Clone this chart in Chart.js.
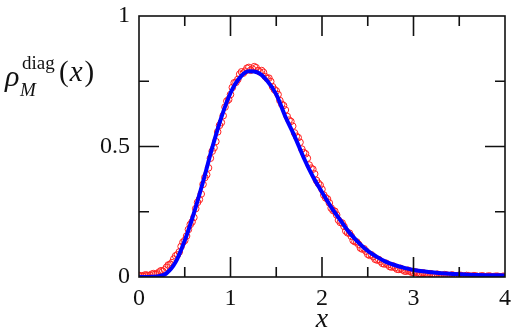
<!DOCTYPE html>
<html>
<head>
<meta charset="UTF-8">
<script src="https://cdn.jsdelivr.net/npm/chart.js@4.4.1/dist/chart.umd.min.js"></script>
<style>
  body { margin: 0; background: #fff; }
</style>
</head>
<body>
<canvas id="rho" width="515" height="336"></canvas>
<script>
// fitted curve (blue)
const blueX = [0, 0.1, 0.2, 0.3, 0.4, 0.5, 0.6, 0.7, 0.8, 0.9, 1.0, 1.1, 1.2, 1.3, 1.4, 1.5, 1.6, 1.7, 1.8, 1.9,
               2.0, 2.1, 2.2, 2.3, 2.4, 2.5, 2.6, 2.7, 2.8, 2.9, 3.0, 3.2, 3.4, 3.6, 3.8, 4.0];
const blueY = [0, 0.000, 0.002, 0.014, 0.057, 0.140, 0.245, 0.365, 0.495, 0.612, 0.705, 0.763, 0.788, 0.783, 0.752, 0.700, 0.614, 0.540, 0.457, 0.385,
               0.325, 0.268, 0.218, 0.170, 0.132, 0.100, 0.077, 0.058, 0.045, 0.035, 0.027, 0.018, 0.012, 0.009, 0.007, 0.006];

// sampled histogram (red circles), even bins
const redAX = [0.00, 0.04, 0.08, 0.12, 0.16, 0.20, 0.24, 0.28, 0.32, 0.36, 0.40, 0.44, 0.48, 0.52, 0.56, 0.60, 0.64, 0.68, 0.72, 0.76,
               0.80, 0.84, 0.88, 0.92, 0.96, 1.00, 1.04, 1.08, 1.12, 1.16, 1.20, 1.24, 1.28, 1.32, 1.36, 1.40, 1.44, 1.48, 1.52, 1.56,
               1.60, 1.64, 1.68, 1.72, 1.76, 1.80, 1.84, 1.88, 1.92, 1.96, 2.00, 2.04, 2.08, 2.12, 2.16, 2.20, 2.24, 2.28, 2.32, 2.36,
               2.40, 2.44, 2.48, 2.52, 2.56, 2.60, 2.64, 2.68, 2.72, 2.76, 2.80, 2.84, 2.88, 2.92, 2.96, 3.00, 3.04, 3.08, 3.12, 3.16,
               3.20, 3.24, 3.28, 3.32, 3.36, 3.40, 3.44, 3.48, 3.52, 3.56, 3.60, 3.64, 3.68, 3.72, 3.76, 3.80, 3.84, 3.88, 3.92, 3.96, 4.00];
const redAY = [0.006, 0.003, 0.008, 0.006, 0.013, 0.012, 0.024, 0.027, 0.046, 0.055, 0.081, 0.096, 0.133, 0.157, 0.201, 0.228, 0.286, 0.318, 0.381, 0.418,
               0.482, 0.519, 0.581, 0.618, 0.674, 0.699, 0.744, 0.757, 0.786, 0.789, 0.803, 0.797, 0.802, 0.786, 0.784, 0.761, 0.749, 0.718, 0.699, 0.662,
               0.640, 0.601, 0.578, 0.539, 0.516, 0.477, 0.455, 0.417, 0.395, 0.359, 0.336, 0.303, 0.284, 0.255, 0.238, 0.209, 0.194, 0.169, 0.156, 0.135,
               0.125, 0.107, 0.099, 0.083, 0.078, 0.065, 0.060, 0.050, 0.047, 0.038, 0.036, 0.029, 0.028, 0.022, 0.022, 0.017, 0.017, 0.013, 0.014, 0.010,
               0.011, 0.008, 0.009, 0.006, 0.008, 0.005, 0.006, 0.004, 0.006, 0.003, 0.005, 0.003, 0.004, 0.002, 0.004, 0.002, 0.003, 0.002, 0.003, 0.001, 0.002];
// odd bins
const redBX = [0.02, 0.06, 0.10, 0.14, 0.18, 0.22, 0.26, 0.30, 0.34, 0.38, 0.42, 0.46, 0.50, 0.54, 0.58, 0.62, 0.66, 0.70, 0.74, 0.78,
               0.82, 0.86, 0.90, 0.94, 0.98, 1.02, 1.06, 1.10, 1.14, 1.18, 1.22, 1.26, 1.30, 1.34, 1.38, 1.42, 1.46, 1.50, 1.54, 1.58,
               1.62, 1.66, 1.70, 1.74, 1.78, 1.82, 1.86, 1.90, 1.94, 1.98, 2.02, 2.06, 2.10, 2.14, 2.18, 2.22, 2.26, 2.30, 2.34, 2.38,
               2.42, 2.46, 2.50, 2.54, 2.58, 2.62, 2.66, 2.70, 2.74, 2.78, 2.82, 2.86, 2.90, 2.94, 2.98, 3.02, 3.06, 3.10, 3.14, 3.18,
               3.22, 3.26, 3.30, 3.34, 3.38, 3.42, 3.46, 3.50, 3.54, 3.58, 3.62, 3.66, 3.70, 3.74, 3.78, 3.82, 3.86, 3.90, 3.94, 3.98];
const redBY = [0.004, 0.007, 0.005, 0.011, 0.010, 0.019, 0.022, 0.037, 0.048, 0.069, 0.085, 0.117, 0.140, 0.182, 0.211, 0.262, 0.297, 0.355, 0.392, 0.455,
               0.495, 0.556, 0.592, 0.651, 0.680, 0.726, 0.746, 0.777, 0.781, 0.800, 0.792, 0.806, 0.791, 0.791, 0.768, 0.762, 0.729, 0.713, 0.676, 0.657,
               0.615, 0.596, 0.552, 0.534, 0.490, 0.472, 0.429, 0.413, 0.370, 0.352, 0.314, 0.299, 0.264, 0.252, 0.218, 0.207, 0.176, 0.168, 0.140, 0.134,
               0.111, 0.108, 0.087, 0.085, 0.068, 0.067, 0.052, 0.053, 0.040, 0.042, 0.030, 0.033, 0.023, 0.026, 0.018, 0.020, 0.013, 0.016, 0.010, 0.013,
               0.007, 0.011, 0.006, 0.009, 0.004, 0.008, 0.003, 0.007, 0.003, 0.006, 0.002, 0.005, 0.002, 0.004, 0.001, 0.004, 0.001, 0.003, 0.001, 0.003];

const xMajor = [1, 2, 3];
const xMinor = [0.5, 1.5, 2.5, 3.5];
const yMajor = [0.5];
const yMinor = [0.25, 0.75];

const serif = "'Liberation Serif', 'DejaVu Serif', serif";

// frame, inward ticks and the y label
const framePlugin = {
  id: "frame",
  afterDatasetsDraw(chart) {
    const ctx = chart.ctx;
    const a = chart.chartArea;
    const xs = chart.scales.x, ys = chart.scales.y;
    ctx.save();
    ctx.strokeStyle = "#111";
    ctx.lineWidth = 1.6;
    ctx.strokeRect(a.left, a.top, a.right - a.left, a.bottom - a.top);
    ctx.beginPath();
    function xt(v, len) {
      const p = xs.getPixelForValue(v);
      ctx.moveTo(p, a.bottom); ctx.lineTo(p, a.bottom - len);
      ctx.moveTo(p, a.top); ctx.lineTo(p, a.top + len);
    }
    function yt(v, len) {
      const p = ys.getPixelForValue(v);
      ctx.moveTo(a.left, p); ctx.lineTo(a.left + len, p);
      ctx.moveTo(a.right, p); ctx.lineTo(a.right - len, p);
    }
    xMajor.forEach(v => xt(v, 20));
    xMinor.forEach(v => xt(v, 10));
    yMajor.forEach(v => yt(v, 20));
    yMinor.forEach(v => yt(v, 10));
    ctx.stroke();

    // rho_M^diag(x)
    ctx.fillStyle = "#111";
    ctx.textBaseline = "alphabetic";
    ctx.font = "italic 30px " + serif;
    ctx.fillText("\u03C1", 5, 86);
    ctx.font = "italic 19px " + serif;
    ctx.fillText("M", 20, 96);
    ctx.font = "19px " + serif;
    ctx.fillText("diag", 22, 69);
    let px = 59;
    ctx.font = "29px " + serif;
    ctx.fillText("(", px, 81); px += ctx.measureText("(").width + 1;
    ctx.font = "italic 29px " + serif;
    ctx.fillText("x", px, 81); px += ctx.measureText("x").width + 2;
    ctx.font = "29px " + serif;
    ctx.fillText(")", px, 81);
    ctx.restore();
  }
};

const redStyle = {
  showLine: false,
  borderColor: "#ff2020",
  backgroundColor: "rgba(0,0,0,0)",
  pointBorderWidth: 1,
  pointRadius: 3.3,
  pointStyle: "circle",
  order: 1
};

new Chart(document.getElementById("rho"), {
  type: "line",
  data: {
    datasets: [
      {
        label: "fit",
        data: blueX.map((x, i) => ({ x: x, y: blueY[i] })),
        borderColor: "#0000ff",
        borderWidth: 4,
        pointRadius: 0,
        cubicInterpolationMode: "monotone",
        fill: false,
        order: 0
      },
      Object.assign({ label: "dataA", data: redAX.map((x, i) => ({ x: x, y: redAY[i] })) }, redStyle),
      Object.assign({ label: "dataB", data: redBX.map((x, i) => ({ x: x, y: redBY[i] })) }, redStyle)
    ]
  },
  options: {
    responsive: false,
    animation: false,
    layout: { padding: { top: 16, right: 10, left: 0, bottom: 0 } },
    plugins: { legend: { display: false }, tooltip: { enabled: false } },
    scales: {
      x: {
        type: "linear",
        min: 0, max: 4,
        ticks: { stepSize: 1, color: "#111", padding: 7, font: { family: serif, size: 24 } },
        grid: { display: false, drawTicks: false },
        border: { display: false },
        title: { display: true, text: "x", color: "#111", padding: 0, font: { family: serif, style: "italic", size: 28 } },
        afterFit(s) { s.height = 59; s.paddingLeft = 0; s.paddingRight = 0; }
      },
      y: {
        min: 0, max: 1,
        ticks: {
          stepSize: 0.5, color: "#111", padding: 9, font: { family: serif, size: 24 },
          callback: v => (v === 0 ? "0" : v === 1 ? "1" : "0.5")
        },
        grid: { display: false, drawTicks: false },
        border: { display: false },
        afterFit(s) { s.width = 139; s.paddingTop = 0; s.paddingBottom = 0; }
      }
    }
  },
  plugins: [framePlugin]
});
</script>
</body>
</html>
